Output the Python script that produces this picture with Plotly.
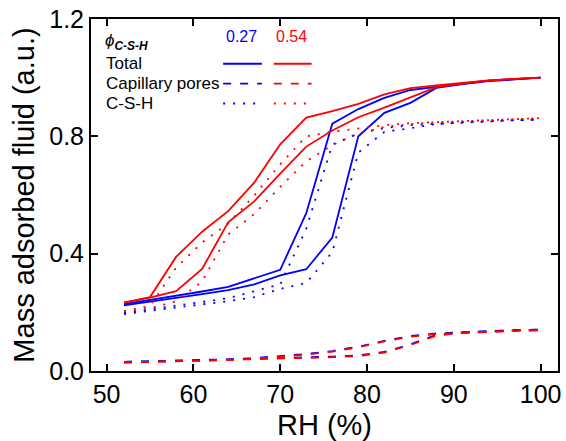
import plotly.graph_objects as go

rh = [52, 55, 58, 61, 64, 67, 70, 73, 76, 79, 82, 85, 88, 91, 94, 97, 100]

# phi_CSH = 0.27 (blue)
blue_total_ads = [0.224, 0.236, 0.249, 0.262, 0.276, 0.295, 0.326, 0.347, 0.455, 0.800, 0.880, 0.914, 0.965, 0.978, 0.988, 0.995, 1.000]
blue_total_des = [0.228, 0.242, 0.256, 0.271, 0.287, 0.316, 0.345, 0.538, 0.843, 0.893, 0.931, 0.958, 0.968, 0.980, 0.990, 0.995, 1.000]
blue_cap_ads = [0.031, 0.033, 0.035, 0.037, 0.039, 0.042, 0.045, 0.047, 0.049, 0.053, 0.065, 0.091, 0.123, 0.132, 0.136, 0.139, 0.141]
blue_cap_des = [0.031, 0.033, 0.035, 0.037, 0.039, 0.044, 0.051, 0.058, 0.068, 0.083, 0.103, 0.119, 0.128, 0.132, 0.136, 0.139, 0.141]
blue_csh_ads = [0.194, 0.205, 0.216, 0.227, 0.238, 0.252, 0.280, 0.300, 0.405, 0.745, 0.815, 0.828, 0.842, 0.848, 0.852, 0.855, 0.857]
blue_csh_des = [0.198, 0.210, 0.222, 0.235, 0.248, 0.272, 0.295, 0.485, 0.772, 0.810, 0.828, 0.838, 0.842, 0.848, 0.852, 0.855, 0.857]

# phi_CSH = 0.54 (red)
red_total_ads = [0.233, 0.250, 0.272, 0.348, 0.507, 0.578, 0.673, 0.765, 0.820, 0.865, 0.898, 0.932, 0.968, 0.980, 0.990, 0.996, 1.000]
red_total_des = [0.233, 0.252, 0.389, 0.475, 0.545, 0.642, 0.773, 0.864, 0.886, 0.911, 0.943, 0.964, 0.974, 0.983, 0.991, 0.996, 1.000]
red_cap_ads = [0.029, 0.031, 0.033, 0.035, 0.037, 0.040, 0.043, 0.045, 0.047, 0.051, 0.063, 0.089, 0.121, 0.130, 0.134, 0.137, 0.139]
red_cap_des = [0.029, 0.031, 0.033, 0.035, 0.037, 0.042, 0.049, 0.056, 0.066, 0.081, 0.101, 0.117, 0.126, 0.130, 0.134, 0.137, 0.139]
red_csh_ads = [0.204, 0.213, 0.238, 0.305, 0.465, 0.535, 0.628, 0.715, 0.770, 0.810, 0.832, 0.842, 0.848, 0.852, 0.856, 0.859, 0.862]
red_csh_des = [0.204, 0.222, 0.352, 0.438, 0.503, 0.598, 0.705, 0.800, 0.816, 0.826, 0.838, 0.845, 0.848, 0.852, 0.856, 0.859, 0.862]

x_ticks = [50, 60, 70, 80, 90, 100]
y_ticks = [0.0, 0.4, 0.8, 1.2]

BLUE = "#0000ff"
RED = "#ff0000"
DASH = "8px,9px"
DOT = "2px,8px"
FONT = "Liberation Sans, Arial, sans-serif"

fig = go.Figure()

series = [
    (blue_total_ads, BLUE, "solid"), (blue_total_des, BLUE, "solid"),
    (blue_cap_ads, BLUE, DASH), (blue_cap_des, BLUE, DASH),
    (blue_csh_ads, BLUE, DOT), (blue_csh_des, BLUE, DOT),
    (red_total_ads, RED, "solid"), (red_total_des, RED, "solid"),
    (red_cap_ads, RED, DASH), (red_cap_des, RED, DASH),
    (red_csh_ads, RED, DOT), (red_csh_des, RED, DOT),
]
for ys, col, dash in series:
    fig.add_trace(go.Scatter(x=rh, y=ys, mode="lines",
                             line=dict(color=col, width=1.8, dash=dash),
                             showlegend=False, hoverinfo="skip"))

# Custom legend
def px_x(px):
    return (px - 91) / 470.0

def px_y(py):
    return (371 - py) / 354.0

annotations = [
    dict(text="<i>ϕ</i><sub><b><i>C-S-H</i></b></sub>", x=px_x(103), y=px_y(40),
         xanchor="left", yanchor="middle", font=dict(size=17, color="black", family=FONT)),
    dict(text="0.27", x=px_x(242), y=px_y(35), xanchor="center", yanchor="middle",
         font=dict(size=16, color=BLUE, family=FONT)),
    dict(text="0.54", x=px_x(293), y=px_y(35), xanchor="center", yanchor="middle",
         font=dict(size=16, color=RED, family=FONT)),
    dict(text="Total", x=px_x(104), y=px_y(62), xanchor="left", yanchor="middle",
         font=dict(size=17, color="black", family=FONT)),
    dict(text="Capillary pores", x=px_x(104), y=px_y(82), xanchor="left", yanchor="middle",
         font=dict(size=17, color="black", family=FONT)),
    dict(text="C-S-H", x=px_x(104), y=px_y(102), xanchor="left", yanchor="middle",
         font=dict(size=17, color="black", family=FONT)),
]
for a in annotations:
    a.update(xref="paper", yref="paper", showarrow=False)

shapes = []
for py, dash in [(62, "solid"), (82, DASH), (102, DOT)]:
    for (x0, x1, col) in [(224, 263, BLUE), (275, 313, RED)]:
        shapes.append(dict(type="line", xref="paper", yref="paper",
                           x0=px_x(x0), x1=px_x(x1), y0=px_y(py), y1=px_y(py),
                           line=dict(color=col, width=1.8, dash=dash)))

axis_common = dict(showline=True, linecolor="black", linewidth=2, mirror="ticks",
                   ticks="inside", ticklen=7, tickwidth=1.5, tickcolor="black",
                   showgrid=False, zeroline=False,
                   tickfont=dict(size=25, color="black", family=FONT))

fig.update_layout(
    width=566, height=441,
    margin=dict(l=91, r=5, t=17, b=70),
    paper_bgcolor="white", plot_bgcolor="white",
    xaxis=dict(range=[48.2, 102.0], tickvals=x_ticks,
               title=dict(text="RH (%)", font=dict(size=29, color="black", family=FONT), standoff=8),
               **axis_common),
    yaxis=dict(range=[0, 1.2], tickvals=y_ticks, tickformat=".1f",
               title=dict(text="Mass adsorbed fluid (a.u.)", font=dict(size=29, color="black", family=FONT), standoff=6),
               **axis_common),
    annotations=annotations,
    shapes=shapes,
)

fig.write_html("out.html", config={"displayModeBar": False},
               post_script="document.body.style.margin='0';document.body.style.overflow='hidden';")
